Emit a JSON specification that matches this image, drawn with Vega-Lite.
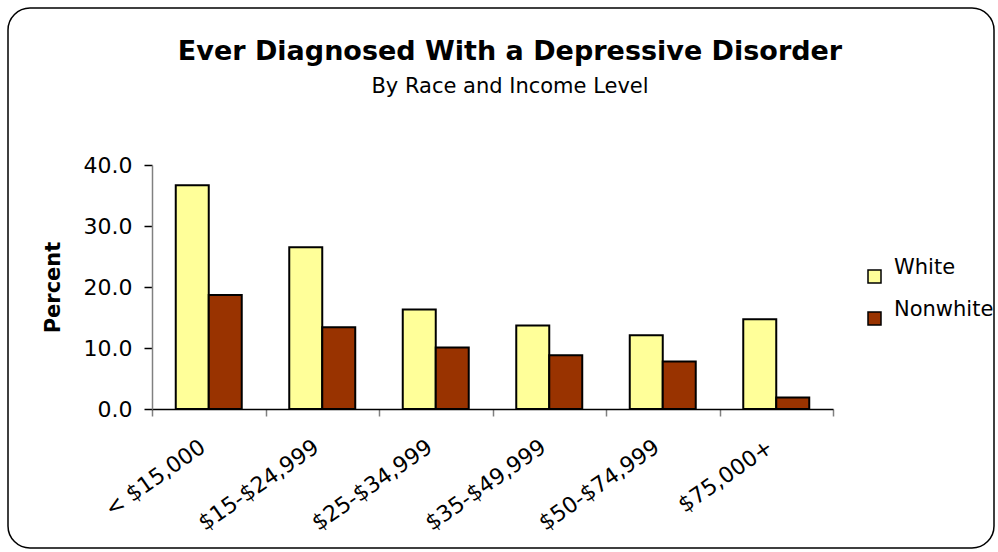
{
  "$schema": "https://vega.github.io/schema/vega-lite/v6.json",
  "width": 986,
  "height": 540,
  "autosize": {"type": "none"},
  "padding": {"left": 8, "top": 8, "right": 4, "bottom": 4},
  "background": "white",
  "view": {"stroke": "#000000", "strokeWidth": 1.5, "cornerRadius": 22, "fill": "white"},
  "title": {
    "text": "Ever Diagnosed With a Depressive Disorder",
    "subtitle": "By Race and Income Level",
    "font": "DejaVu Sans",
    "fontSize": 27,
    "fontWeight": "bold",
    "color": "#000000",
    "subtitleFont": "DejaVu Sans",
    "subtitleFontSize": 21,
    "subtitleColor": "#000000",
    "subtitlePadding": 10,
    "anchor": "middle",
    "frame": "group",
    "offset": -90,
    "dx": 9
  },
  "data": {
    "values": [
      {"income": "< $15,000", "race": "White", "percent": 36.7},
      {"income": "< $15,000", "race": "Nonwhite", "percent": 18.7},
      {"income": "$15-$24,999", "race": "White", "percent": 26.5},
      {"income": "$15-$24,999", "race": "Nonwhite", "percent": 13.4},
      {"income": "$25-$34,999", "race": "White", "percent": 16.3},
      {"income": "$25-$34,999", "race": "Nonwhite", "percent": 10.1},
      {"income": "$35-$49,999", "race": "White", "percent": 13.7},
      {"income": "$35-$49,999", "race": "Nonwhite", "percent": 8.8},
      {"income": "$50-$74,999", "race": "White", "percent": 12.1},
      {"income": "$50-$74,999", "race": "Nonwhite", "percent": 7.8},
      {"income": "$75,000+", "race": "White", "percent": 14.7},
      {"income": "$75,000+", "race": "Nonwhite", "percent": 1.9}
    ]
  },
  "mark": {"type": "bar", "stroke": "#000000", "strokeWidth": 2, "opacity": 1},
  "encoding": {
    "x": {
      "field": "income",
      "type": "nominal",
      "sort": ["< $15,000", "$15-$24,999", "$25-$34,999", "$35-$49,999", "$50-$74,999", "$75,000+"],
      "scale": {"range": [144, 825], "paddingInner": 0, "paddingOuter": 0},
      "axis": {
        "title": null,
        "offset": -139,
        "tickBand": "extent",
        "domainColor": "#000000",
        "domainWidth": 1.5,
        "tickColor": "#808080",
        "tickSize": 7,
        "tickWidth": 1.5,
        "labelAngle": -35,
        "labelAlign": "right",
        "labelBaseline": "top",
        "labelPadding": 20,
        "labelOffset": -12,
        "labelFont": "DejaVu Sans",
        "labelFontSize": 22,
        "labelColor": "#000000",
        "labelOverlap": false,
        "labelBound": false,
        "labelFlush": false
      }
    },
    "xOffset": {
      "field": "race",
      "type": "nominal",
      "sort": ["White", "Nonwhite"],
      "scale": {"paddingInner": 0, "paddingOuter": 0.72}
    },
    "y": {
      "field": "percent",
      "type": "quantitative",
      "scale": {"domain": [0, 40], "range": [401, 157], "nice": false, "zero": true},
      "axis": {
        "offset": -144,
        "values": [0, 10, 20, 30, 40],
        "format": ".1f",
        "grid": false,
        "domainColor": "#808080",
        "domainWidth": 1.5,
        "tickColor": "#000000",
        "tickSize": 8,
        "tickWidth": 1.5,
        "labelPadding": 12,
        "labelFont": "DejaVu Sans",
        "labelFontSize": 22,
        "labelColor": "#000000",
        "title": "Percent",
        "titleFont": "DejaVu Sans",
        "titleFontSize": 21,
        "titleFontWeight": "bold",
        "titleColor": "#000000",
        "titlePadding": 20
      }
    },
    "color": {
      "field": "race",
      "type": "nominal",
      "sort": ["White", "Nonwhite"],
      "scale": {"domain": ["White", "Nonwhite"], "range": ["#FFFF99", "#993300"]},
      "legend": {
        "title": null,
        "orient": "none",
        "legendX": 856,
        "legendY": 258,
        "padding": 0,
        "symbolType": "square",
        "symbolSize": 169,
        "symbolStrokeColor": "#000000",
        "symbolStrokeWidth": 1.5,
        "symbolOpacity": 1,
        "labelFont": "DejaVu Sans",
        "labelFontSize": 21,
        "labelColor": "#000000",
        "labelOffset": 9,
        "rowPadding": 12,
        "encode": {"labels": {"update": {"dy": {"value": -9}}}}
      }
    }
  }
}
